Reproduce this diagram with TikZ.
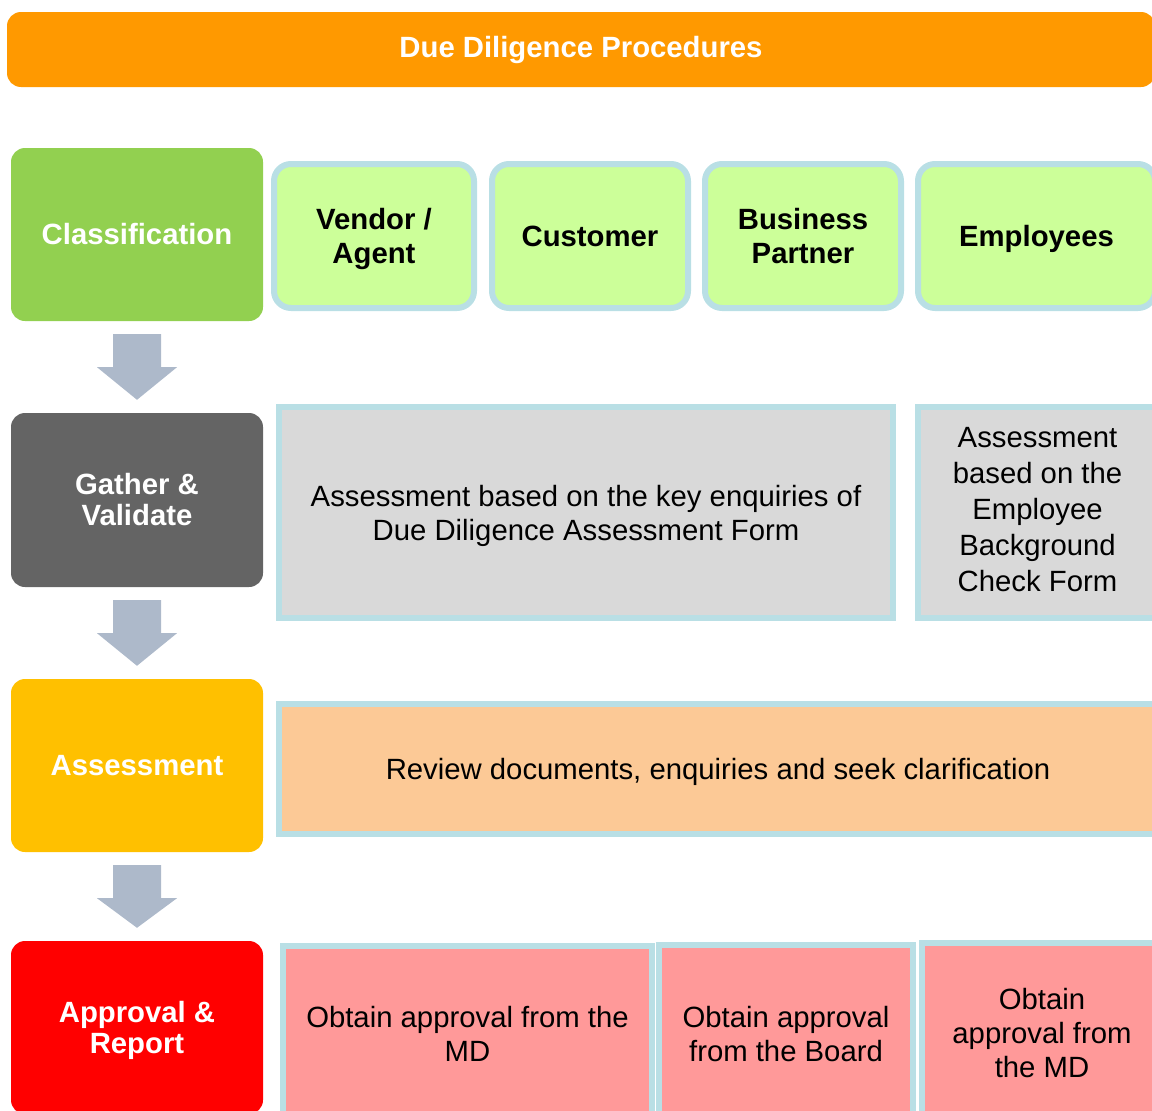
\documentclass[tikz,border=0pt]{standalone}
\usepackage{fontspec}
\setmainfont{Liberation Sans}
\usetikzlibrary{calc}

\definecolor{barorange}{HTML}{FF9900}
\definecolor{edgeblue}{HTML}{B9DFE5}
\definecolor{kindgreen}{HTML}{CCFF99}
\definecolor{formgray}{HTML}{D9D9D9}
\definecolor{reviewpeach}{HTML}{FCC996}
\definecolor{approvepink}{HTML}{FF9999}
\definecolor{flowgray}{HTML}{ADB9CA}

\begin{document}
\begin{tikzpicture}[x=1pt,y=-1pt,
  every node/.style={align=center,inner sep=0pt,font=\fontsize{29.3}{34}\selectfont},
  stage/.style={rounded corners=14pt,minimum width=252,minimum height=173,
    text=white,font=\bfseries\fontsize{29.3}{31}\selectfont},
  kind/.style={draw=edgeblue,line width=6pt,fill=kindgreen,rounded corners=17pt,
    minimum height=144,text depth=0pt,font=\bfseries\fontsize{29.3}{34}\selectfont},
  task/.style={draw=edgeblue,line width=6pt,text depth=0pt},
  flow/.style={fill=flowgray}]
\useasboundingbox (0,0) rectangle (1152,1111);

\node[fill=barorange,rounded corners=14pt,minimum width=1148,minimum height=75,
      text=white,font=\bfseries\fontsize{29.3}{34}\selectfont] (bar) at (581,49.5)
      {Due Diligence Procedures};

% stages
\node[stage,fill={rgb,255:red,146;green,208;blue,80}] (cls) at (137,234.5) {Classification};
\node[stage,fill={rgb,255:red,100;green,100;blue,100},minimum height=174] (gat) at (137,500) {Gather \&\\Validate};
\node[stage,fill={rgb,255:red,255;green,192;blue,0}] (ass) at (137,765.5) {Assessment};
\node[stage,fill=red,text depth=0pt] (app) at (137,1027.5) {Approval \&\\Report};

\foreach \a/\b in {cls/gat,gat/ass,ass/app}
  \fill[flow] ($(\a.south)+(-24,13)$) -- ++(0,33) -- ++(-16,0)
    -- ($(\b.north)+(0,-13)$) -- ($(\a.south)+(40,46)$) -- ++(-16,0) -- ++(0,-33) -- cycle;

% classification
\node[kind,minimum width=200] (vendor) at (374,236) {Vendor /\\Agent};
\node[kind,minimum width=196] (customer) at (590,236) {Customer};
\node[kind,minimum width=196] (partner) at (803,236) {Business\\Partner};
\node[kind,minimum width=237] (staff) at (1036.5,236) {Employees};

% gather & validate
\node[task,fill=formgray,minimum width=614,minimum height=211] (ddform) at (586,512.5)
  {Assessment based on the key enquiries of\\Due Diligence Assessment Form};
\node[task,fill=formgray,minimum width=239,minimum height=211,text depth=6pt,
      font=\fontsize{29.3}{36.2}\selectfont] (bgform) at (1037.5,512.5)
  {Assessment\\based on the\\Employee\\Background\\Check Form};

% assessment
\node[task,fill=reviewpeach,minimum width=878,minimum height=130] (review) at (718,769)
  {Review documents, enquiries and seek clarification};

% approval
\node[task,fill=approvepink,minimum width=369,minimum height=176] (mdone) at (467.5,1034)
  {Obtain approval from the\\MD};
\node[task,fill=approvepink,minimum width=254,minimum height=178] (board) at (786,1034)
  {Obtain approval\\from the Board};
\node[task,fill=approvepink,minimum width=240,minimum height=179] (mdtwo) at (1042,1032.5)
  {Obtain\\approval from\\the MD};
\end{tikzpicture}
\end{document}
